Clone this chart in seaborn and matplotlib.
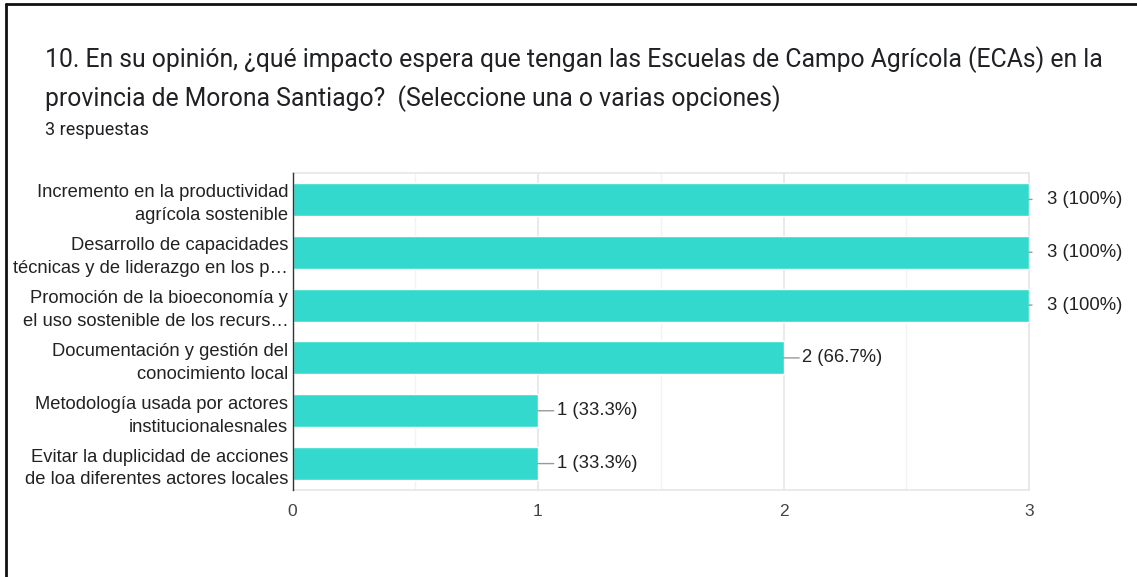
import matplotlib
matplotlib.use("Agg")
import matplotlib.pyplot as plt
import seaborn as sns
import pandas as pd
from matplotlib.lines import Line2D

categories = [
    "Incremento en la productividad\nagrícola sostenible",
    "Desarrollo de capacidades\ntécnicas y de liderazgo en los p…",
    "Promoción de la bioeconomía y\nel uso sostenible de los recurs…",
    "Documentación y gestión del\nconocimiento local",
    "Metodología usada por actores\ninstitucionalesnales",
    "Evitar la duplicidad de acciones\nde loa diferentes actores locales",
]
counts = [3, 3, 3, 2, 1, 1]
value_labels = ["3 (100%)", "3 (100%)", "3 (100%)", "2 (66.7%)", "1 (33.3%)", "1 (33.3%)"]
xticks = [0, 1, 2, 3]
title_line1 = "10. En su opinión, ¿qué impacto espera que tengan las Escuelas de Campo Agrícola (ECAs) en la"
title_line2 = "provincia de Morona Santiago?  (Seleccione una o varias opciones)"
subtitle = "3 respuestas"

sns.set_theme(style="white")
plt.rcParams['font.family'] = ['Liberation Sans', 'DejaVu Sans']

df = pd.DataFrame({"cat": categories, "n": counts})

W, H = 1137, 577
fig = plt.figure(figsize=(W/100, H/100), dpi=100)
ax = fig.add_axes([292.5/W, 1-490/H, (1029-292.5)/W, (490-173)/H])

sns.barplot(data=df, x="n", y="cat", orient="h", color="#34d9cd", width=0.625,
            saturation=1, ax=ax, zorder=3)

ax.set_xlim(0, 3)
ax.set_ylim(5.5, -0.5)
ax.set_xticks(xticks)
ax.set_xticks([0.5, 1.5, 2.5], minor=True)
ax.set_xticklabels([str(t) for t in xticks], fontsize=12.5, color="#444444")
ax.grid(axis="x", which="major", color="#e6e6e6", linewidth=1.2, zorder=0)
ax.grid(axis="x", which="minor", color="#f3f3f3", linewidth=1.0, zorder=0)
ax.grid(axis="y", visible=False)
ax.set_xlabel("")
ax.set_ylabel("")
ax.tick_params(axis="x", which="both", length=0, pad=10)
ax.tick_params(axis="y", length=0, pad=3)
for lbl in ax.get_yticklabels():
    lbl.set_fontsize(13.2)
    lbl.set_color("#222222")
    lbl.set_linespacing(1.45)
for s in ["top", "right", "bottom"]:
    ax.spines[s].set_color("#e6e6e6")
    ax.spines[s].set_linewidth(1.2)
ax.spines["left"].set_color("#333333")
ax.spines["left"].set_linewidth(1.0)
ax.spines["left"].set_zorder(5)

px = 72 / 100  # points per pixel
vmax = max(counts)
for i, (v, lab) in enumerate(zip(counts, value_labels)):
    if v == vmax:
        ax.annotate(lab, xy=(v, i), xytext=(18 * px, 0), textcoords="offset points",
                    ha="left", va="center", fontsize=13.3, color="#222222",
                    annotation_clip=False)
        ax.annotate("", xy=(v, i), xytext=(3 * px, 0), textcoords="offset points",
                    arrowprops=dict(arrowstyle="-", color="#999999", lw=1,
                                    shrinkA=0, shrinkB=0),
                    annotation_clip=False)
    else:
        ax.annotate(lab, xy=(v, i), xytext=(19 * px, 0), textcoords="offset points",
                    ha="left", va="center", fontsize=13.3, color="#222222",
                    arrowprops=dict(arrowstyle="-", color="#999999", lw=1,
                                    shrinkA=0, shrinkB=0),
                    annotation_clip=False)

fig.text(45/W, 1-60/H, title_line1, fontsize=17.8, color="#202124",
         va="center", ha="left", family=["Roboto", "DejaVu Sans"])
fig.text(45/W, 1-99/H, title_line2, fontsize=17.8, color="#202124",
         va="center", ha="left", family=["Roboto", "DejaVu Sans"])
fig.text(45/W, 1-130/H, subtitle, fontsize=13, color="#202124",
         va="center", ha="left", family=["Roboto", "DejaVu Sans"])

fig.add_artist(Line2D([6/W, 1.0], [1-4/H, 1-4/H], transform=fig.transFigure,
                      color="#111111", linewidth=2))
fig.add_artist(Line2D([6/W, 6/W], [0.0, 1-4/H], transform=fig.transFigure,
                      color="#111111", linewidth=2))

fig.savefig("out.png", dpi=100, facecolor="white")
